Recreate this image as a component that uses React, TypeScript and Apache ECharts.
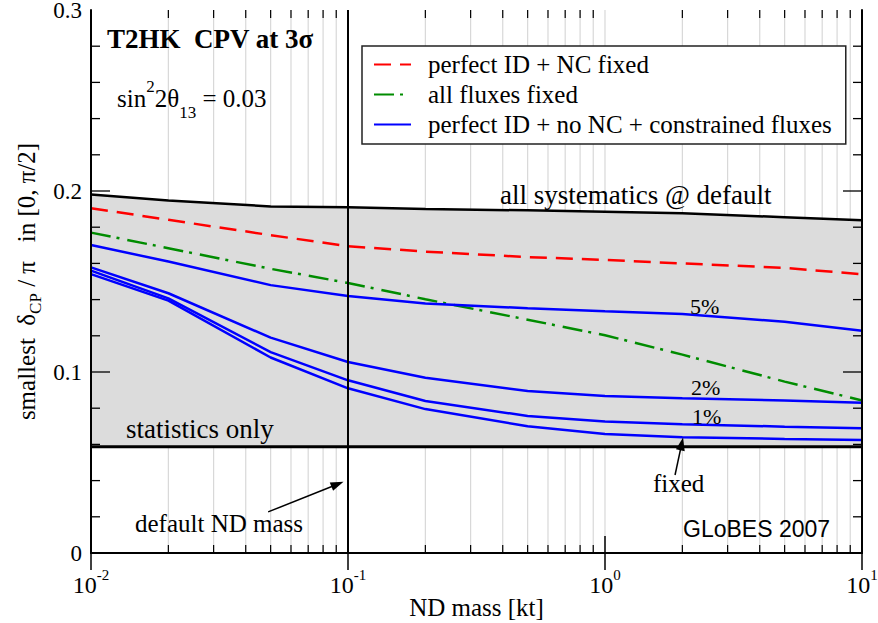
import React, { useEffect, useRef } from 'react';
import * as echarts from 'echarts';

// ND mass [kt] sample points
const ndMass = [0.01, 0.02, 0.05, 0.1, 0.2, 0.5, 1, 2, 5, 10];
// smallest delta_CP / pi
const allSystematics = [0.198, 0.1947, 0.1915, 0.191, 0.19, 0.1893, 0.1885, 0.1877, 0.1855, 0.1838];
const statisticsOnly = [0.0587, 0.0587, 0.0587, 0.0587, 0.0587, 0.0587, 0.0587, 0.0587, 0.0587, 0.0587];
const perfectIdNcFixed = [0.1905, 0.1841, 0.1756, 0.1695, 0.1665, 0.1635, 0.1619, 0.16, 0.1575, 0.154];
const allFluxesFixed = [0.177, 0.1684, 0.157, 0.1492, 0.1402, 0.1289, 0.1203, 0.1096, 0.0947, 0.0843];
const constrained5 = [0.1702, 0.161, 0.148, 0.142, 0.1379, 0.1352, 0.1335, 0.132, 0.1278, 0.1228];
const constrained2 = [0.1578, 0.1435, 0.119, 0.1055, 0.0968, 0.0895, 0.0867, 0.0855, 0.0843, 0.083];
const constrained1 = [0.156, 0.1407, 0.111, 0.0954, 0.084, 0.0757, 0.0726, 0.0712, 0.0698, 0.0689];
const fluxesFixed = [0.1541, 0.1394, 0.108, 0.091, 0.0795, 0.07, 0.0657, 0.064, 0.063, 0.0624];

const defaultNdMass = 0.1;
const defaultArrow = [[0.0489, 0.0227], [0.091, 0.038]];
const fixedArrow = [[1.873, 0.0431], [1.988, 0.0603]];

// axis ticks
const xMin = 0.01;
const xMax = 10;
const yMin = 0;
const yMax = 0.3;
const minorXTicks = [
  0.02, 0.03, 0.04, 0.05, 0.06, 0.07, 0.08, 0.09,
  0.2, 0.3, 0.4, 0.5, 0.6, 0.7, 0.8, 0.9,
  2, 3, 4, 5, 6, 7, 8, 9,
];
const gridXLines = [...minorXTicks, 1];
const majorYTicks = [0.1, 0.2];
const minorYTicks = [0.02, 0.04, 0.06, 0.08, 0.12, 0.14, 0.16, 0.18, 0.22, 0.24, 0.26, 0.28];

const legendNames = [
  'perfect ID + NC fixed',
  'all fluxes fixed',
  'perfect ID + no NC + constrained fluxes',
];

const SERIF = '"Liberation Serif", "Times New Roman", serif';
const SANS = '"Liberation Sans", Arial, sans-serif';

const pairs = (ys: number[]) => ndMass.map((x, i) => [x, ys[i]]);

function textEl(text: string, x: number, y: number, fontSize: number, extra: any = {}) {
  return {
    type: 'text',
    x,
    y,
    z: 100,
    silent: true,
    style: {
      text,
      fill: '#000',
      fontSize,
      fontFamily: SERIF,
      align: 'left',
      verticalAlign: 'middle',
      textAlign: 'left',
      textVerticalAlign: 'middle',
      ...extra,
    },
  };
}

export default function App() {
  const ref = useRef<HTMLDivElement>(null);
  useEffect(() => {
    const chart = echarts.init(ref.current!, null, { renderer: 'svg' });
    const blue = (name: string, ys: number[]) => ({
      name,
      type: 'line',
      data: pairs(ys),
      symbol: 'none',
      z: 4,
      lineStyle: { color: '#0000ff', width: 2.5 },
      itemStyle: { color: '#0000ff' },
    });
    const yTickSeries = (name: string, values: number[], len: number) => ({
      name,
      type: 'custom',
      z: 6,
      silent: true,
      data: values.map((v) => [xMin, v]),
      encode: { x: 0, y: 1 },
      renderItem: (params: any, api: any) => {
        const y = api.value(1);
        const l = api.coord([xMin, y]);
        const r = api.coord([xMax, y]);
        return {
          type: 'group',
          children: [
            { type: 'line', shape: { x1: l[0], y1: l[1], x2: l[0] + len, y2: l[1] }, style: { stroke: '#000', lineWidth: 1.3 } },
            { type: 'line', shape: { x1: r[0], y1: r[1], x2: r[0] - len, y2: r[1] }, style: { stroke: '#000', lineWidth: 1.3 } },
          ],
        };
      },
    });
    const option: any = {
      animation: false,
      backgroundColor: '#fff',
      grid: { left: 91, right: 16, top: 10, bottom: 70, containLabel: false, outerBoundsMode: 'none' },
      legend: {
        data: legendNames,
        orient: 'vertical',
        left: 362,
        top: 46,
        itemWidth: 37,
        itemHeight: 14,
        itemGap: 3,
        padding: [5, 14, 6, 11],
        borderColor: '#222',
        borderWidth: 1.5,
        backgroundColor: '#fff',
        selectedMode: false,
        itemStyle: { opacity: 0 },
        textStyle: {
          fontFamily: SERIF,
          fontSize: 25,
          lineHeight: 27,
          color: '#000',
          padding: [0, 0, 0, 12],
        },
        z: 10,
      },
      xAxis: [
        {
          type: 'log',
          logBase: 10,
          min: xMin,
          max: xMax,
          position: 'bottom',
          z: 5,
          axisLine: { lineStyle: { color: '#000', width: 2 } },
          axisTick: { inside: true, length: 17, lineStyle: { color: '#000', width: 1.5 } },
          splitLine: { show: false },
          axisLabel: {
            margin: 14,
            formatter: (v: number) => `{b|10}{s|${Math.round(Math.log10(v))}}`,
            rich: {
              b: { fontFamily: SERIF, fontSize: 24, lineHeight: 24, verticalAlign: 'top', padding: [6, 0, 0, 0], color: '#000' },
              s: { fontFamily: SERIF, fontSize: 15, lineHeight: 15, verticalAlign: 'top', color: '#000' },
            },
          },
          name: 'ND mass [kt]',
          nameLocation: 'middle',
          nameGap: 42,
          nameMoveOverlap: false,
          nameTextStyle: { fontFamily: SERIF, fontSize: 25, lineHeight: 25, color: '#000' },
        },
        {
          type: 'log',
          logBase: 10,
          min: xMin,
          max: xMax,
          position: 'top',
          z: 5,
          axisLine: { lineStyle: { color: '#000', width: 2 } },
          axisTick: { inside: true, length: 17, lineStyle: { color: '#000', width: 1.5 } },
          splitLine: { show: false },
          axisLabel: { show: false },
        },
      ],
      yAxis: [
        {
          type: 'value',
          min: yMin,
          max: yMax,
          interval: 0.1,
          position: 'left',
          z: 5,
          axisLine: { show: true, lineStyle: { color: '#000', width: 2 } },
          axisTick: { show: false },
          minorTick: { show: false },
          splitLine: { show: false },
          axisLabel: {
            margin: 9,
            fontFamily: SERIF,
            fontSize: 23,
            lineHeight: 20,
            color: '#000',
            formatter: (v: number) => (v === 0 ? '0' : v.toFixed(1)),
          },
          name: '{n|smallest\u00a0\u00a0δ}{s|CP}{n|\u00a0/\u00a0π\u00a0\u00a0\u00a0in [0, π/2]}',
          nameLocation: 'middle',
          nameRotate: 90,
          nameGap: 52,
          nameMoveOverlap: false,
          nameTextStyle: {
            rich: {
              n: { fontFamily: SERIF, fontSize: 25, lineHeight: 25, verticalAlign: 'top', color: '#000' },
              s: { fontFamily: SERIF, fontSize: 17, lineHeight: 17, verticalAlign: 'top', padding: [13, 0, 0, 0], color: '#000' },
            },
          },
        },
        {
          type: 'value',
          min: yMin,
          max: yMax,
          interval: 0.1,
          position: 'right',
          z: 5,
          axisLine: { show: true, lineStyle: { color: '#000', width: 2 } },
          axisTick: { show: false },
          minorTick: { show: false },
          splitLine: { show: false },
          axisLabel: { show: false },
        },
      ],
      series: [
        {
          name: 'grid',
          type: 'custom',
          z: 1,
          silent: true,
          data: gridXLines.map((v) => [v, yMin]),
          encode: { x: 0, y: 1 },
          renderItem: (params: any, api: any) => {
            const x = api.value(0);
            const b = api.coord([x, yMin]);
            const t = api.coord([x, yMax]);
            return {
              type: 'line',
              shape: { x1: b[0], y1: b[1], x2: t[0], y2: t[1] },
              style: { stroke: '#d8d8d8', lineWidth: 1.2 },
            };
          },
        },
        {
          name: 'minorTicks',
          type: 'custom',
          z: 6,
          silent: true,
          data: minorXTicks.map((v) => [v, yMin]),
          encode: { x: 0, y: 1 },
          renderItem: (params: any, api: any) => {
            const x = api.value(0);
            const b = api.coord([x, yMin]);
            const t = api.coord([x, yMax]);
            return {
              type: 'group',
              children: [
                { type: 'line', shape: { x1: b[0], y1: b[1], x2: b[0], y2: b[1] - 8 }, style: { stroke: '#000', lineWidth: 1.2 } },
                { type: 'line', shape: { x1: t[0], y1: t[1], x2: t[0], y2: t[1] + 8 }, style: { stroke: '#000', lineWidth: 1.2 } },
              ],
            };
          },
        },
        yTickSeries('yMajorTicks', majorYTicks, 19),
        yTickSeries('yMinorTicks', minorYTicks, 9),
        {
          name: 'all systematics @ default',
          type: 'line',
          data: pairs(allSystematics),
          symbol: 'none',
          z: 2,
          lineStyle: { color: '#000', width: 2.5 },
          areaStyle: { color: '#dcdcdc', opacity: 1, origin: statisticsOnly[0] },
        },
        {
          name: 'statistics only',
          type: 'line',
          data: pairs(statisticsOnly),
          symbol: 'none',
          z: 3,
          lineStyle: { color: '#000', width: 3 },
          markLine: {
            silent: true,
            animation: false,
            symbol: ['none', 'none'],
            label: { show: false },
            lineStyle: { color: '#000', type: 'solid', width: 2 },
            data: [
              { xAxis: defaultNdMass },
              [
                { coord: defaultArrow[0], symbol: 'none', lineStyle: { width: 1.5, color: '#000', type: 'solid' } },
                { coord: defaultArrow[1], symbol: 'triangle', symbolSize: [9, 13], lineStyle: { width: 1.5, color: '#000', type: 'solid' } },
              ],
              [
                { coord: fixedArrow[0], symbol: 'none', lineStyle: { width: 1.5, color: '#000', type: 'solid' } },
                { coord: fixedArrow[1], symbol: 'triangle', symbolSize: [9, 13], lineStyle: { width: 1.5, color: '#000', type: 'solid' } },
              ],
            ],
          },
        },
        {
          name: legendNames[0],
          type: 'line',
          data: pairs(perfectIdNcFixed),
          symbol: 'none',
          z: 4,
          lineStyle: { color: '#ff0000', width: 2.5, type: [17, 9] },
          itemStyle: { color: '#ff0000' },
        },
        {
          name: legendNames[1],
          type: 'line',
          data: pairs(allFluxesFixed),
          symbol: 'none',
          z: 4,
          lineStyle: { color: '#008c00', width: 2.5, type: [20, 6, 3, 8] },
          itemStyle: { color: '#008c00' },
        },
        blue(legendNames[2], constrained5),
        blue('2%', constrained2),
        blue('1%', constrained1),
        blue('fixed', fluxesFixed),
      ],
      graphic: [
        textEl('T2HK\u00a0\u00a0CPV at 3σ', 107, 39, 27, { fontWeight: 'bold' }),
        {
          type: 'text',
          x: 117,
          y: 90.5,
          z: 100,
          silent: true,
          style: {
            text: '{n|sin}{p|2}{n|2θ}{b|13}{n|\u00a0= 0.03}',
            align: 'left',
            verticalAlign: 'middle',
            textAlign: 'left',
            textVerticalAlign: 'middle',
            rich: {
              n: { fontFamily: SERIF, fontSize: 25, lineHeight: 25, verticalAlign: 'top', padding: [8, 0, 0, 0], fill: '#000', color: '#000' },
              p: { fontFamily: SERIF, fontSize: 17, lineHeight: 17, verticalAlign: 'top', fill: '#000', color: '#000' },
              b: { fontFamily: SERIF, fontSize: 17, lineHeight: 17, verticalAlign: 'top', padding: [26, 0, 0, 0], fill: '#000', color: '#000' },
            },
          },
        },
        textEl('all systematics @ default', 500, 195, 27),
        textEl('statistics only', 126, 429, 27),
        textEl('5%', 690, 306.6, 22),
        textEl('2%', 691, 387.6, 22),
        textEl('1%', 692, 416.6, 22),
        textEl('fixed', 653, 483.6, 25),
        textEl('default ND mass', 135, 523.6, 25),
        textEl('GLoBES 2007', 683, 529, 23, { fontFamily: SANS }),
      ],
    };
    chart.setOption(option);
    return () => chart.dispose();
  }, []);
  return (
    <div
      ref={ref}
      style={{ position: 'fixed', left: 0, top: 0, width: 878, height: 623, background: '#fff' }}
    />
  );
}
